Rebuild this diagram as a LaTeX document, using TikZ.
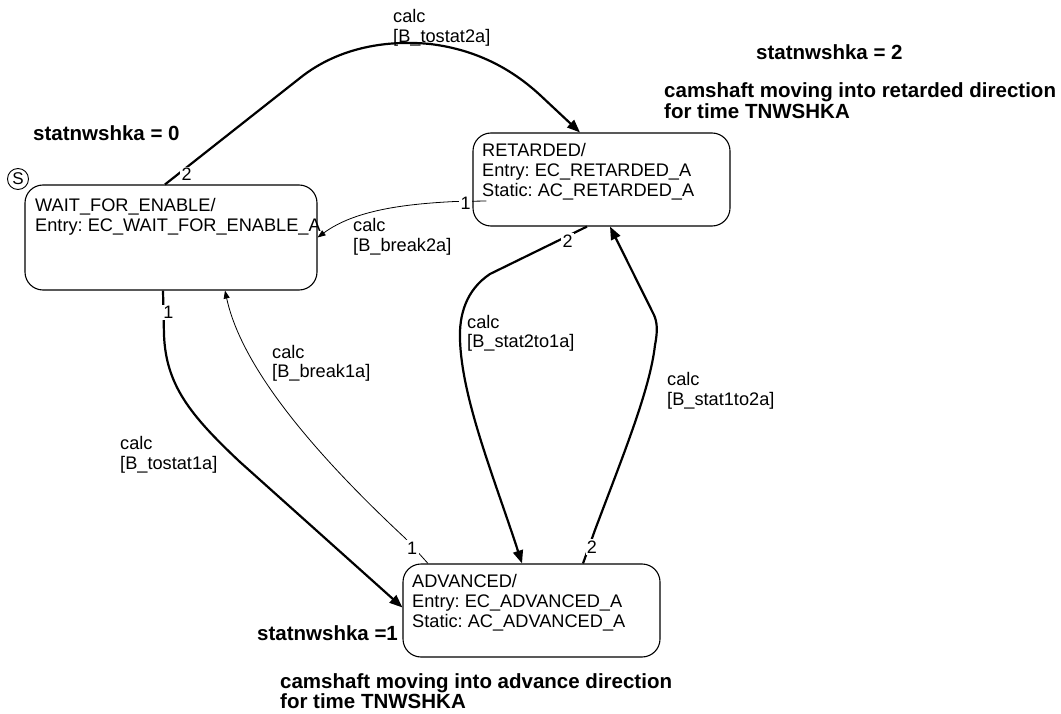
\documentclass[tikz,border=0pt]{standalone}
\usepackage{fontspec}
\setmainfont{Liberation Sans}
\usetikzlibrary{arrows.meta,calc}
\newcommand\mlines[1]{\begin{tabular}[t]{@{}l@{}}#1\end{tabular}}
\frenchspacing
\begin{document}
\frenchspacing
\begin{tikzpicture}[x=1pt,y=-1pt,
 statebox/.style={draw, line width=1.1pt, rounded corners=18pt, inner sep=0pt},
 boxtext/.style={anchor=base west, inner sep=0pt, font=\fontsize{18.2}{20}\selectfont},
 notetext/.style={anchor=base west, inner sep=0pt, font=\fontsize{20.5}{19.5}\selectfont\bfseries},
 numlabel/.style={fill=white, inner sep=1.5pt, font=\fontsize{18}{20}\selectfont},
 thickarrow/.style={line width=2.2pt, -{Triangle[length=13pt,width=10pt]}},
 thinarrow/.style={line width=0.8pt, -{Triangle[length=8pt,width=6pt]}},
 startsym/.style={draw, circle, line width=0.9pt, inner sep=0pt, minimum size=21pt, font=\fontsize{17}{17}\selectfont}
]
\useasboundingbox (0,0) rectangle (1061,714);

% states
\node[statebox, minimum width=292pt, minimum height=105pt] (wait) at (171,237.5) {};
\node[statebox, minimum width=257pt, minimum height=93pt] (ret) at (601.5,179.5) {};
\node[statebox, minimum width=257pt, minimum height=93pt] (adv) at (531.5,610.5) {};

\node[boxtext] (waittxt) at (35,211.5) {\mlines{WAIT\_FOR\_ENABLE/\\Entry: EC\_WAIT\_FOR\_ENABLE\_A}};
\node[boxtext] (rettxt) at (482,157) {\mlines{RETARDED/\\Entry: EC\_RETARDED\_A\\Static: AC\_RETARDED\_A}};
\node[boxtext] (advtxt) at (412,587) {\mlines{ADVANCED/\\Entry: EC\_ADVANCED\_A\\Static: AC\_ADVANCED\_A}};

\node[startsym] (start) at (18,179) {S};

% transitions
\draw[thickarrow] ([xshift=-6pt]wait.north) -- node[numlabel, pos=0.16, yshift=-7pt]{2} (300,78)
  .. controls (340,46) and (390,40) .. (430,44)
  .. controls (480,50) and (515,72) .. (540,95) -- ([xshift=-21.5pt]ret.north);

\draw[thinarrow] ($(ret.west)+(14,21.5)$) -- node[numlabel, pos=0.66, yshift=-2pt]{1} (455,201.5)
  .. controls (405,204) and (355,210) .. (wait.east);

\draw[thickarrow] ([xshift=-14.5pt]ret.south) -- node[numlabel, pos=0.2, yshift=-5pt]{2} (490,274)
  .. controls (466,290) and (459,315) .. (460,340)
  .. controls (462,400) and (495,480) .. ([xshift=-9.5pt]adv.north);

\draw[thickarrow] ([xshift=51.5pt]adv.north) -- node[numlabel, pos=0.5, xshift=3pt]{2} (595,530)
  .. controls (622,458) and (650,390) .. (655,345)
  .. controls (658,330) and (657,322) .. (654,315) -- ([xshift=8.5pt]ret.south);

\draw[thickarrow] ([xshift=-8pt]wait.south) -- node[numlabel, pos=0.5, xshift=5pt]{1} (164,335)
  .. controls (166,385) and (190,415) .. (240,462) -- ([yshift=3pt]adv.west);

\draw[thinarrow] ([xshift=-103.5pt]adv.north) -- node[numlabel, pos=0.6, xshift=-2pt]{1} (405,538)
  .. controls (300,440) and (240,360) .. ([xshift=54pt]wait.south);

% event labels
\node[boxtext] (evA) at (393,23) {\mlines{calc\\\relax[B\_tostat2a]}};
\node[boxtext] (evB) at (353,232) {\mlines{calc\\\relax[B\_break2a]}};
\node[boxtext] (evC) at (467,328) {\mlines{calc\\\relax[B\_stat2to1a]}};
\node[boxtext] (evD) at (667,385) {\mlines{calc\\\relax[B\_stat1to2a]}};
\node[boxtext] (evE) at (272,358) {\mlines{calc\\\relax[B\_break1a]}};
\node[boxtext] (evF) at (120,449) {\mlines{calc\\\relax[B\_tostat1a]}};

% notes
\node[notetext] (n0) at (33,140.5) {statnwshka = 0};
\node[notetext] (n2) at (756,60) {statnwshka = 2};
\node[notetext] (nret) at (664,98) {\mlines{camshaft moving into retarded direction\\for time TNWSHKA}};
\node[notetext] (n1) at (257,640.5) {statnwshka =1};
\node[notetext] (nadv) at (280,688) {\mlines{camshaft moving into advance direction\\for time TNWSHKA}};
\end{tikzpicture}
\end{document}
